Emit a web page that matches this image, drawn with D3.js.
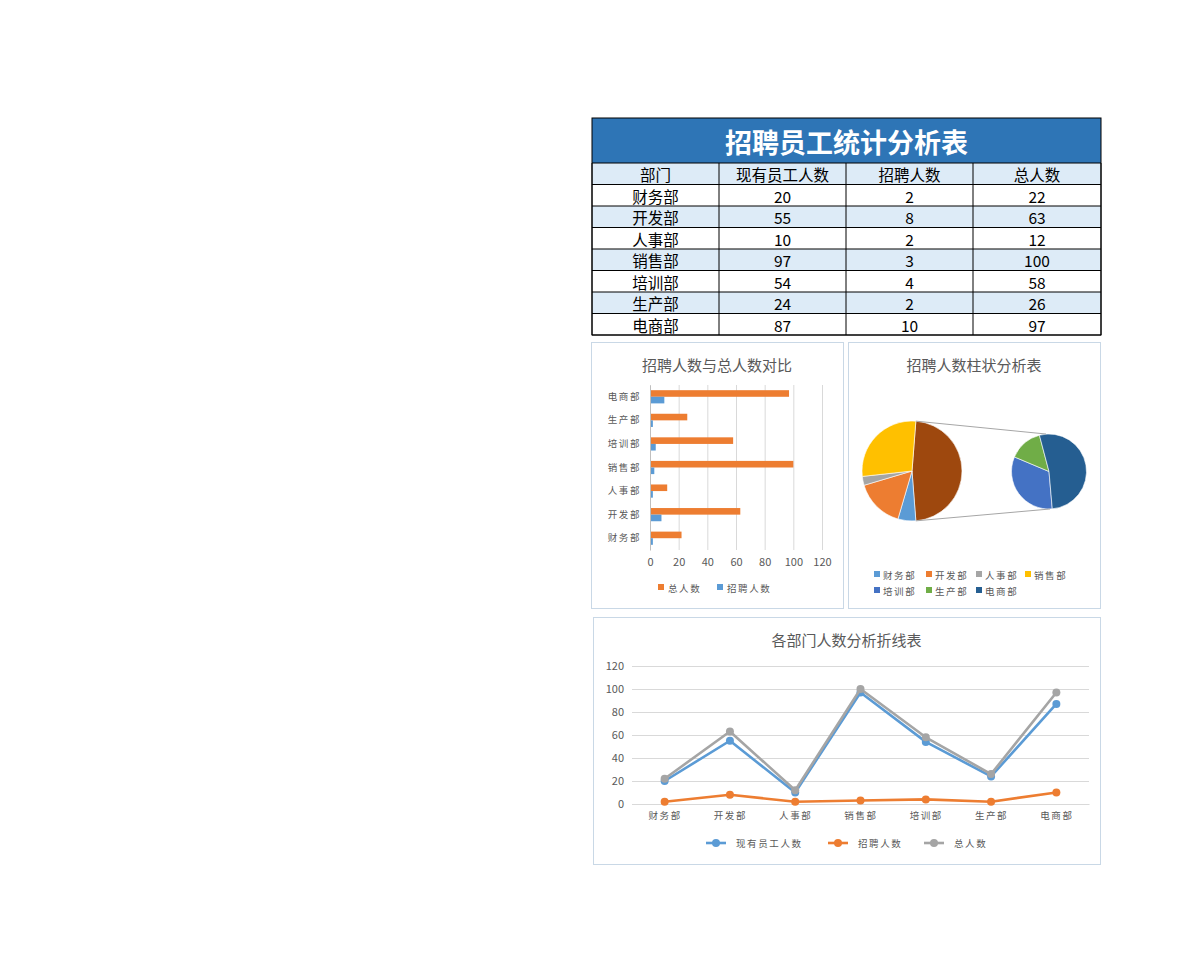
<!DOCTYPE html>
<html><head><meta charset="utf-8">
<script src="https://cdn.jsdelivr.net/npm/d3@7"></script>
<style>
body{margin:0;background:#fff;}
text{font-family:"Noto Sans CJK SC","Noto Sans",sans-serif;}
</style></head>
<body><svg id="c" width="1197" height="970"></svg>
<script>
const departments = ["财务部","开发部","人事部","销售部","培训部","生产部","电商部"];
const currentStaff = [20,55,10,97,54,24,87];
const recruits = [2,8,2,3,4,2,10];
const totals = [22,63,12,100,58,26,97];
const tableHeaders = ["部门","现有员工人数","招聘人数","总人数"];
const tableTitle = "招聘员工统计分析表";
const barTitle = "招聘人数与总人数对比";
const pieTitle = "招聘人数柱状分析表";
const lineTitle = "各部门人数分析折线表";
const valueTicks = [0,20,40,60,80,100,120];
const seriesNames = ["现有员工人数","招聘人数","总人数"];

const svg = d3.select("#c");
const lbl = "#595959";
const catFont = "'Noto Sans CJK SC',sans-serif";

// ---------- table ----------
(function(){
  const x0=592, x1=1101, colX=[592,719,846,973,1101];
  const titleTop=118, titleBot=163, rowH=21.5;
  const g = svg.append("g");
  g.append("rect").attr("x",x0).attr("y",titleTop).attr("width",x1-x0).attr("height",titleBot-titleTop).attr("fill","#2E75B6");
  g.append("text").attr("x",(x0+x1)/2).attr("y",(titleTop+titleBot)/2+1).attr("text-anchor","middle").attr("dominant-baseline","central")
    .attr("fill","#fff").attr("font-size",27).attr("font-weight","bold").text(tableTitle);
  const rows = [tableHeaders].concat(departments.map((d,i)=>[d,currentStaff[i],recruits[i],totals[i]]));
  rows.forEach((r,ri)=>{
    const y = titleBot + ri*rowH;
    g.append("rect").attr("x",x0).attr("y",y).attr("width",x1-x0).attr("height",rowH)
      .attr("fill", ri%2===0 ? "#DDEBF7" : "#fff");
    r.forEach((v,ci)=>{
      g.append("text").attr("x",(colX[ci]+colX[ci+1])/2).attr("y",y+rowH/2+0.5)
        .attr("text-anchor","middle").attr("dominant-baseline","central").attr("font-size",15.5).attr("fill","#000").text(v);
    });
  });
  const bot = titleBot + rows.length*rowH;
  for(let ri=0; ri<=rows.length; ri++){
    g.append("line").attr("x1",x0).attr("x2",x1).attr("y1",titleBot+ri*rowH).attr("y2",titleBot+ri*rowH).attr("stroke","#000").attr("stroke-width",1);
  }
  colX.forEach(cx=>{
    g.append("line").attr("x1",cx).attr("x2",cx).attr("y1",titleBot).attr("y2",bot).attr("stroke","#000");
  });
  g.append("rect").attr("x",x0).attr("y",titleTop).attr("width",x1-x0).attr("height",bot-titleTop).attr("fill","none").attr("stroke","#000");
})();

function panel(x,y,w,h,title,ty){
  svg.append("rect").attr("x",x+0.5).attr("y",y+0.5).attr("width",w).attr("height",h).attr("fill","#fff").attr("stroke","#C9D8E6");
  svg.append("text").attr("x",x+w/2).attr("y",ty).attr("text-anchor","middle").attr("dominant-baseline","central")
    .attr("font-size",15).attr("fill",lbl).text(title);
}

// ---------- bar chart ----------
(function(){
  panel(591,342,252,266,barTitle,364);
  const x = d3.scaleLinear().domain([0,120]).range([650,822]);
  const y = d3.scaleBand().domain(departments.slice().reverse()).range([385,550]).paddingInner(0.44).paddingOuter(0.22);
  const sub = d3.scaleBand().domain(["总人数","招聘人数"]).range([0,y.bandwidth()]);
  const gx = svg.append("g").attr("transform","translate(0,550)")
    .call(d3.axisBottom(x).tickValues(valueTicks).tickSize(-165).tickPadding(8));
  gx.select(".domain").remove();
  gx.selectAll("line").attr("stroke","#D9D9D9");
  gx.selectAll("text").attr("fill",lbl).attr("font-size",11).attr("font-family","'Noto Sans',sans-serif");
  const data = departments.map((d,i)=>({d, t:totals[i], r:recruits[i]}));
  svg.append("g").selectAll("rect").data(data).join("rect")
    .attr("x",x(0)).attr("y",d=>y(d.d)+sub("总人数")).attr("width",d=>x(d.t)-x(0)).attr("height",sub.bandwidth()).attr("fill","#ED7D31");
  svg.append("g").selectAll("rect").data(data).join("rect")
    .attr("x",x(0)).attr("y",d=>y(d.d)+sub("招聘人数")).attr("width",d=>x(d.r)-x(0)).attr("height",sub.bandwidth()).attr("fill","#5B9BD5");
  const gy = svg.append("g").attr("transform",`translate(${x(0)},0)`).call(d3.axisLeft(y).tickSize(0).tickPadding(9));
  gy.select(".domain").attr("stroke","#BFBFBF");
  gy.selectAll("text").attr("fill",lbl).attr("font-size",9.5).attr("letter-spacing","1.6px").attr("font-family",catFont);
  const leg = [["总人数","#ED7D31",658],["招聘人数","#5B9BD5",717]];
  leg.forEach(([n,c,lx])=>{
    svg.append("rect").attr("x",lx).attr("y",584).attr("width",6).attr("height",6).attr("fill",c);
    svg.append("text").attr("x",lx+10).attr("y",587.5).attr("dominant-baseline","central").attr("font-size",9.5)
      .attr("letter-spacing","1.6px").attr("fill",lbl).text(n);
  });
})();

// ---------- pie of pie ----------
(function(){
  panel(848,342,252,266,pieTitle,364);
  const colors = ["#5B9BD5","#ED7D31","#A5A5A5","#FFC000","#4472C4","#70AD47","#255E91"];
  const otherVal = d3.sum(currentStaff.slice(4));
  const total = d3.sum(currentStaff);
  const mainData = [{name:"其他",v:otherVal,c:"#9E480E"}].concat(departments.slice(0,4).map((d,i)=>({name:d,v:currentStaff[i],c:colors[i]})));
  const otherSpan = otherVal/total*2*Math.PI;
  const s0 = Math.PI/2 - otherSpan/2;
  const c1=[912,471], r1=50, c2=[1049,471.5], r2=37.5;
  const pie1 = d3.pie().sort(null).value(d=>d.v).startAngle(s0).endAngle(s0+2*Math.PI);
  const arc1 = d3.arc().innerRadius(0).outerRadius(r1);
  svg.append("g").attr("transform",`translate(${c1})`).selectAll("path").data(pie1(mainData)).join("path")
    .attr("d",arc1).attr("fill",d=>d.data.c).attr("stroke","#fff").attr("stroke-width",0.6);
  const secData = departments.slice(4).map((d,i)=>({name:d,v:currentStaff[i+4],c:colors[i+4]}));
  const s2 = 175*Math.PI/180;
  const pie2 = d3.pie().sort(null).value(d=>d.v).startAngle(s2).endAngle(s2+2*Math.PI);
  const arc2 = d3.arc().innerRadius(0).outerRadius(r2);
  svg.append("g").attr("transform",`translate(${c2})`).selectAll("path").data(pie2(secData)).join("path")
    .attr("d",arc2).attr("fill",d=>d.data.c).attr("stroke","#fff").attr("stroke-width",0.6);
  const pA = [c1[0]+r1*Math.sin(s0), c1[1]-r1*Math.cos(s0)];
  const pB = [c1[0]+r1*Math.sin(s0+otherSpan), c1[1]-r1*Math.cos(s0+otherSpan)];
  svg.append("line").attr("x1",pA[0]).attr("y1",pA[1]).attr("x2",c2[0]-3).attr("y2",c2[1]-r2).attr("stroke","#A6A6A6").attr("stroke-width",1);
  svg.append("line").attr("x1",pB[0]).attr("y1",pB[1]).attr("x2",c2[0]+1).attr("y2",c2[1]+r2).attr("stroke","#A6A6A6").attr("stroke-width",1);
  const legX=[874,926,976,1025];
  departments.forEach((d,i)=>{
    const lx = legX[i%4], ly = i<4 ? 574 : 590;
    svg.append("rect").attr("x",lx).attr("y",ly-3).attr("width",6).attr("height",6).attr("fill",colors[i]);
    svg.append("text").attr("x",lx+9).attr("y",ly+0.5).attr("dominant-baseline","central").attr("font-size",9.5)
      .attr("letter-spacing","1.6px").attr("fill",lbl).text(d);
  });
})();

// ---------- line chart ----------
(function(){
  panel(593,617,507,247,lineTitle,639);
  const x = d3.scalePoint().domain(departments).range([632,1089]).padding(0.5);
  const y = d3.scaleLinear().domain([0,120]).range([804,666]);
  const gy = svg.append("g").attr("transform","translate(632,0)")
    .call(d3.axisLeft(y).tickValues(valueTicks).tickSize(-457).tickPadding(8));
  gy.select(".domain").remove();
  gy.selectAll("line").attr("stroke","#D9D9D9");
  gy.selectAll("text").attr("fill",lbl).attr("font-size",11).attr("font-family","'Noto Sans',sans-serif");
  const gx = svg.append("g").attr("transform","translate(0,804)").call(d3.axisBottom(x).tickSize(0).tickPadding(8));
  gx.select(".domain").attr("stroke","#D9D9D9");
  gx.selectAll("text").attr("fill",lbl).attr("font-size",9.5).attr("letter-spacing","1.6px").attr("font-family",catFont);
  const series = [[seriesNames[0],currentStaff,"#5B9BD5"],[seriesNames[1],recruits,"#ED7D31"],[seriesNames[2],totals,"#A5A5A5"]];
  const line = d3.line().x((d,i)=>x(departments[i])).y(d=>y(d));
  series.forEach(([n,vals,c])=>{
    svg.append("path").attr("d",line(vals)).attr("fill","none").attr("stroke",c).attr("stroke-width",2.6).attr("stroke-linejoin","round");
    svg.append("g").selectAll("circle").data(vals).join("circle")
      .attr("cx",(d,i)=>x(departments[i])).attr("cy",d=>y(d)).attr("r",4).attr("fill",c);
  });
  const legPos=[706,828,924];
  series.forEach(([n,vals,c],i)=>{
    const lx=legPos[i], ly=843;
    svg.append("line").attr("x1",lx).attr("x2",lx+20).attr("y1",ly).attr("y2",ly).attr("stroke",c).attr("stroke-width",2.6);
    svg.append("circle").attr("cx",lx+10).attr("cy",ly).attr("r",4).attr("fill",c);
    svg.append("text").attr("x",lx+30).attr("y",ly).attr("dominant-baseline","central").attr("font-size",9.5)
      .attr("letter-spacing","1.6px").attr("fill",lbl).text(n);
  });
})();
</script></body></html>
